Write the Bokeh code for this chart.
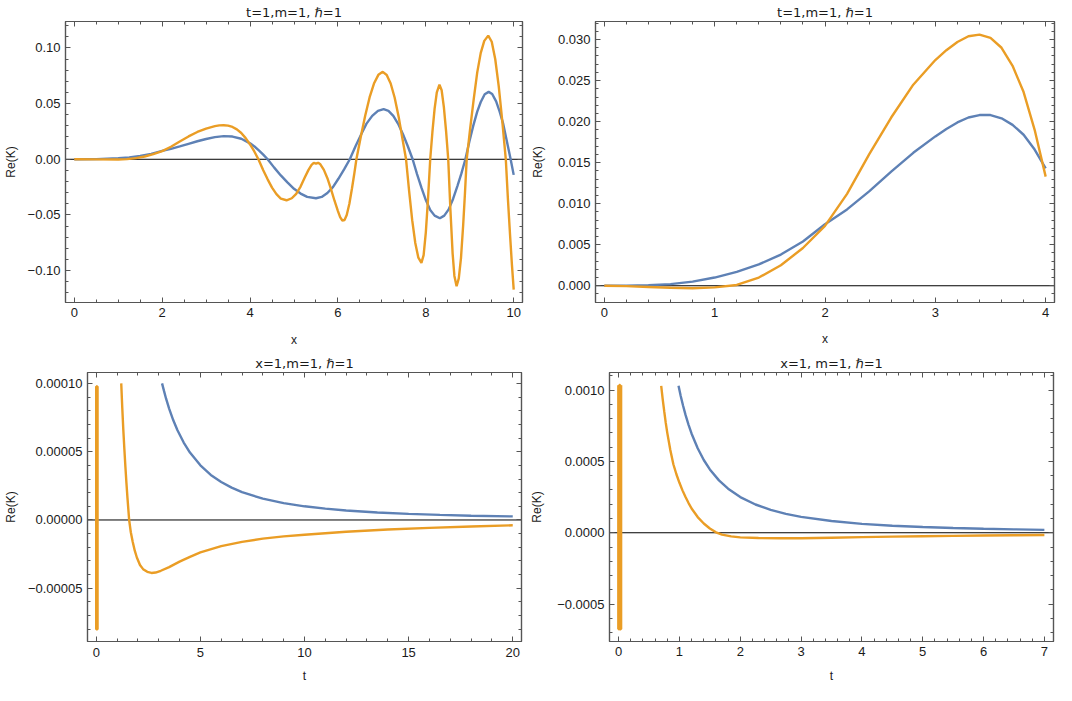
from bokeh.plotting import figure
from bokeh.layouts import row, column
from bokeh.models import Range1d, FixedTicker, LinearAxis, Span, CustomJSTickFormatter, CustomLabelingPolicy
from bokeh.embed import file_html
from bokeh.resources import INLINE

BLUE = "#5E81B5"
ORANGE = "#EA9D25"
FONT = "Liberation Sans"
TFONT = "DejaVu Sans"
FRAME = "#555555"
TXT = "#1a1a1a"
HBAR = "\u210f"
MINUS = "\u2212"

# ---------------- Panel A: t=1, x in [0,10] ----------------
a_blue_x = [0, 0.5, 1.0, 1.25, 1.5, 1.75, 2.0, 2.2, 2.4, 2.6, 2.8, 3.0, 3.2, 3.4, 3.6, 3.8, 4.0, 4.1, 4.2, 4.3,
            4.4, 4.55, 4.7, 4.85, 5.0, 5.15, 5.3, 5.5, 5.63, 5.76, 5.89, 6.01, 6.14, 6.27, 6.4, 6.53, 6.65, 6.78,
            6.91, 7.04, 7.15, 7.26, 7.37, 7.48, 7.59, 7.7, 7.8, 7.9, 8.0, 8.1, 8.2, 8.32, 8.42, 8.52, 8.62, 8.72,
            8.81, 8.9, 8.99, 9.08, 9.17, 9.25, 9.34, 9.43, 9.51, 9.6, 9.68, 9.76, 9.85, 9.93, 10.0]
a_blue_y = [0, 0.0001, 0.0009, 0.0017, 0.0030, 0.0049, 0.0075, 0.0093, 0.0115, 0.0139, 0.0162, 0.0182, 0.0199,
            0.0208, 0.0204, 0.0184, 0.0143, 0.0115, 0.0080, 0.0041, 0.0, -0.0075, -0.0145, -0.0208, -0.0265,
            -0.0308, -0.0338, -0.0350, -0.0338, -0.0303, -0.0248, -0.0175, -0.0091, 0.0, 0.0117, 0.0225, 0.0320,
            0.0390, 0.0434, 0.0450, 0.0435, 0.0390, 0.0318, 0.0225, 0.0117, 0.0, -0.0133, -0.0255, -0.0366, -0.0456,
            -0.0506, -0.0530, -0.0506, -0.0450, -0.0356, -0.0238, -0.0127, 0.0, 0.0157, 0.0302, 0.0428, 0.0514,
            0.0584, 0.0605, 0.0586, 0.0520, 0.0428, 0.0320, 0.0150, 0.0, -0.0140]
a_orange_x = [0, 0.5, 1.0, 1.2, 1.4, 1.6, 1.8, 2.0, 2.2, 2.4, 2.6, 2.8, 3.0, 3.1, 3.2, 3.3, 3.4, 3.5, 3.6, 3.7, 3.8,
              3.9, 4.0, 4.1, 4.19, 4.3, 4.4, 4.5, 4.6, 4.7, 4.83, 4.95, 5.05, 5.15, 5.25, 5.33, 5.4, 5.45, 5.5, 5.55,
              5.6, 5.68, 5.76, 5.84, 5.92, 6.0, 6.05, 6.1, 6.15, 6.2, 6.26, 6.32, 6.37, 6.42, 6.52, 6.62, 6.72, 6.82,
              6.92, 7.02, 7.11, 7.2, 7.29, 7.38, 7.47, 7.55, 7.62, 7.69, 7.76, 7.83, 7.9, 7.95, 8.0, 8.05, 8.1, 8.15,
              8.2, 8.25, 8.31, 8.36, 8.41, 8.46, 8.51, 8.56, 8.61, 8.65, 8.7, 8.75, 8.8, 8.85, 8.89, 8.93, 9.01, 9.09,
              9.17, 9.25, 9.33, 9.42, 9.5, 9.58, 9.66, 9.74, 9.82, 9.87, 9.92, 9.96, 10.0]
a_orange_y = [0, -0.0001, -0.0002, 0.0001, 0.0010, 0.0025, 0.0046, 0.0073, 0.0112, 0.0160, 0.0205, 0.0245, 0.0275,
              0.0287, 0.0297, 0.0304, 0.0306, 0.0302, 0.0290, 0.0268, 0.0236, 0.0190, 0.0133, 0.0068, 0.0, -0.0098,
              -0.0180, -0.0254, -0.0313, -0.0353, -0.0368, -0.0350, -0.0310, -0.0245, -0.0160, -0.0095, -0.0050,
              -0.0032, -0.0040, -0.0032, -0.0045, -0.0095, -0.0170, -0.0265, -0.0370, -0.0465, -0.0520, -0.0550,
              -0.0545, -0.0500, -0.0400, -0.0260, -0.0135, 0.0, 0.0203, 0.0390, 0.0555, 0.0680, 0.0758, 0.0785,
              0.0757, 0.0680, 0.0555, 0.0385, 0.0180, 0.0, -0.0287, -0.0547, -0.0752, -0.0884, -0.0930, -0.0860,
              -0.0657, -0.0356, 0.0, 0.0245, 0.0455, 0.0600, 0.0670, 0.0620, 0.0470, 0.0257, 0.0, -0.0458, -0.0847,
              -0.1047, -0.1140, -0.1070, -0.0887, -0.0590, -0.0310, 0.0, 0.0280, 0.0540, 0.0780, 0.0955, 0.1063,
              0.1110, 0.1055, 0.0898, 0.0653, 0.0343, 0.0, -0.0370, -0.0700, -0.0950, -0.1170]
a_xticks = [0, 2, 4, 6, 8, 10]
a_xlabels = ["0", "2", "4", "6", "8", "10"]
a_yticks = [-0.10, -0.05, 0.0, 0.05, 0.10]
a_ylabels = [MINUS + "0.10", MINUS + "0.05", "0.00", "0.05", "0.10"]

# ---------------- Panel B: t=1, x in [0,4] ----------------
b_x = [0, 0.2, 0.4, 0.6, 0.8, 1.0, 1.2, 1.4, 1.6, 1.8, 2.0, 2.2, 2.4, 2.6, 2.8, 3.0, 3.1, 3.2, 3.3, 3.4, 3.5, 3.6,
       3.7, 3.8, 3.9, 4.0]
b_blue_y = [0, 0.00001, 0.00006, 0.0002, 0.0005, 0.0010, 0.0017, 0.0026, 0.0038, 0.0054, 0.0075, 0.0093, 0.0115,
            0.0139, 0.0162, 0.0182, 0.0191, 0.0199, 0.0205, 0.0208, 0.0208, 0.0204, 0.0196, 0.0184, 0.0166, 0.0143]
b_orange_y = [0, -0.00005, -0.00015, -0.00025, -0.0003, -0.0002, 0.0001, 0.0010, 0.0025, 0.0046, 0.0073, 0.0112,
              0.0160, 0.0205, 0.0245, 0.0275, 0.0287, 0.0297, 0.0304, 0.0306, 0.0302, 0.0290, 0.0268, 0.0236,
              0.0190, 0.0133]
b_xticks = [0, 1, 2, 3, 4]
b_xlabels = ["0", "1", "2", "3", "4"]
b_yticks = [0.0, 0.005, 0.010, 0.015, 0.020, 0.025, 0.030]
b_ylabels = ["0.000", "0.005", "0.010", "0.015", "0.020", "0.025", "0.030"]

# ---------------- Panel C: x=1, t in [0,20] ----------------
c_blue_t = [3.16, 3.25, 3.35, 3.5, 3.7, 3.9, 4.2, 4.5, 5.0, 5.5, 6.0, 6.5, 7.0, 8.0, 9.0, 10.0, 11.0, 12.0, 13.5,
            15.0, 16.5, 18.0, 20.0]
c_blue_y = [1.0e-4, 9.47e-5, 8.9e-5, 8.16e-5, 7.3e-5, 6.57e-5, 5.67e-5, 4.94e-5, 4.0e-5, 3.3e-5, 2.78e-5, 2.37e-5,
            2.04e-5, 1.56e-5, 1.23e-5, 1.0e-5, 0.83e-5, 0.69e-5, 0.55e-5, 0.445e-5, 0.37e-5, 0.31e-5, 0.26e-5]
c_orange_t = [1.2, 1.25, 1.3, 1.35, 1.4, 1.45, 1.5, 1.58, 1.66, 1.75, 1.85, 1.95, 2.1, 2.25, 2.45, 2.65, 2.85, 3.1,
              3.5, 4.0, 4.5, 5.0, 6.0, 7.0, 8.0, 9.0, 10.0, 12.0, 14.0, 16.0, 18.0, 20.0]
c_orange_y = [1.0e-4, 8.2e-5, 6.6e-5, 5.2e-5, 3.9e-5, 2.7e-5, 1.6e-5, 0.0, -0.9e-5, -1.6e-5, -2.25e-5, -2.75e-5,
              -3.3e-5, -3.6e-5, -3.8e-5, -3.88e-5, -3.85e-5, -3.72e-5, -3.45e-5, -3.05e-5, -2.7e-5, -2.38e-5,
              -1.92e-5, -1.6e-5, -1.37e-5, -1.2e-5, -1.08e-5, -0.86e-5, -0.7e-5, -0.58e-5, -0.48e-5, -0.39e-5]
c_osc_t = [0.0, 0.0, 0.02, 0.02, 0.04, 0.04, 0.06, 0.06]
c_osc_y = [0.98e-4, -0.80e-4, -0.80e-4, 0.98e-4, 0.98e-4, -0.80e-4, -0.80e-4, 0.98e-4]
c_xticks = [0, 5, 10, 15, 20]
c_xlabels = ["0", "5", "10", "15", "20"]
c_yticks = [-0.00005, 0.0, 0.00005, 0.00010]
c_ylabels = [MINUS + "0.00005", "0.00000", "0.00005", "0.00010"]

# ---------------- Panel D: x=1, t in [0,7] ----------------
d_blue_t = [0.985, 1.02, 1.06, 1.1, 1.15, 1.2, 1.3, 1.4, 1.5, 1.65, 1.8, 2.0, 2.25, 2.5, 2.75, 3.0, 3.5, 4.0, 4.5,
            5.0, 5.5, 6.0, 6.5, 7.0]
d_blue_y = [1.03e-3, 0.96e-3, 0.89e-3, 0.826e-3, 0.756e-3, 0.694e-3, 0.592e-3, 0.51e-3, 0.444e-3, 0.367e-3,
            0.309e-3, 0.25e-3, 0.198e-3, 0.16e-3, 0.132e-3, 0.111e-3, 0.082e-3, 0.0625e-3, 0.049e-3, 0.04e-3,
            0.033e-3, 0.028e-3, 0.024e-3, 0.0205e-3]
d_orange_t = [0.70, 0.725, 0.75, 0.775, 0.80, 0.85, 0.90, 0.95, 1.0, 1.05, 1.1, 1.15, 1.2, 1.3, 1.4, 1.5, 1.6, 1.7,
              1.85, 2.0, 2.3, 2.65, 3.0, 3.5, 4.0, 4.5, 5.0, 5.5, 6.0, 6.5, 7.0]
d_orange_y = [1.03e-3, 0.935e-3, 0.85e-3, 0.77e-3, 0.70e-3, 0.58e-3, 0.48e-3, 0.41e-3, 0.35e-3, 0.297e-3, 0.25e-3,
              0.208e-3, 0.17e-3, 0.11e-3, 0.065e-3, 0.03e-3, 0.003e-3, -0.013e-3, -0.025e-3, -0.032e-3, -0.037e-3,
              -0.039e-3, -0.038e-3, -0.0345e-3, -0.0305e-3, -0.027e-3, -0.024e-3, -0.0215e-3, -0.0192e-3,
              -0.0175e-3, -0.016e-3]
d_osc_t = [0.0, 0.0, 0.012, 0.012, 0.024, 0.024, 0.036, 0.036]
d_osc_y = [1.034e-3, -0.675e-3, -0.675e-3, 1.034e-3, 1.034e-3, -0.675e-3, -0.675e-3, 1.034e-3]
d_xticks = [0, 1, 2, 3, 4, 5, 6, 7]
d_xlabels = ["0", "1", "2", "3", "4", "5", "6", "7"]
d_yticks = [-0.0005, 0.0, 0.0005, 0.0010]
d_ylabels = [MINUS + "0.0005", "0.0000", "0.0005", "0.0010"]


def minor(lo, hi, step):
    n = int(round((hi - lo) / step))
    return [float(round(lo + i * step, 12)) for i in range(n + 1)]


def fmt(ticks, labels):
    return CustomJSTickFormatter(args=dict(v=ticks, l=labels), code="""
        const tol = Math.abs(v[1] - v[0]) * 1e-6;
        for (let i = 0; i < v.length; i++) { if (Math.abs(v[i] - tick) < tol) return l[i]; }
        return "";
    """)


NO_LABELS = CustomLabelingPolicy(code="""
    for (const i of Array.from(indices)) { indices.unset(i) }
    return indices
""")


def style(ax, ticker, formatter=None, label=None, tick_standoff=5, label_standoff=8):
    ax.ticker = ticker
    ax.axis_line_color = FRAME
    ax.axis_line_width = 1.2
    ax.major_tick_line_color = FRAME
    ax.minor_tick_line_color = FRAME
    ax.major_tick_in = 5
    ax.major_tick_out = 0
    ax.minor_tick_in = 3
    ax.minor_tick_out = 0
    if formatter is not None:
        ax.formatter = formatter
        ax.major_label_text_font = FONT
        ax.major_label_text_font_size = "13px"
        ax.major_label_text_color = TXT
        ax.major_label_standoff = int(tick_standoff)
        ax.axis_label = label
        ax.axis_label_text_font = FONT
        ax.axis_label_text_font_size = "12px"
        ax.axis_label_text_font_style = "normal"
        ax.axis_label_text_color = TXT
        ax.axis_label_standoff = int(label_standoff)
    else:
        ax.major_label_policy = NO_LABELS
        ax.major_label_text_font_size = "0px"
        ax.major_label_standoff = 0
        ax.axis_label = None


def make(title, w, h, borders, xr, yr, xt, xl, xminor, yt, yl, yminor, xname, xstd, ystd, series, osc=None):
    p = figure(width=w, height=h, output_backend="svg", toolbar_location=None,
               x_range=Range1d(*xr), y_range=Range1d(*yr), min_border=0)
    p.min_border_left, p.min_border_right, p.min_border_top, p.min_border_bottom = borders
    p.grid.visible = False
    p.outline_line_color = FRAME
    p.outline_line_width = 1.2
    p.background_fill_color = "white"
    p.border_fill_color = "white"
    p.title.text = title
    p.title.text_font = TFONT
    p.title.text_font_size = "13px"
    p.title.text_font_style = "normal"
    p.title.text_color = TXT
    p.title.align = "center"
    p.title.standoff = 4

    xtick = FixedTicker(ticks=xt, minor_ticks=xminor)
    ytick = FixedTicker(ticks=yt, minor_ticks=yminor)
    style(p.xaxis[0], xtick, fmt(xt, xl), xname, xstd[0], xstd[1])
    style(p.yaxis[0], ytick, fmt(yt, yl), "Re(K)", ystd[0], ystd[1])
    top = LinearAxis()
    right = LinearAxis()
    style(top, xtick)
    style(right, ytick)
    p.add_layout(top, "above")
    p.add_layout(right, "right")

    p.add_layout(Span(location=0, dimension="width", line_color="black", line_width=1, level="underlay"))
    for (sx, sy, c) in series:
        p.line(sx, sy, line_color=c, line_width=2.4)
    if osc is not None:
        p.line(osc[0], osc[1], line_color=ORANGE, line_width=osc[2])
    return p


pa = make("t=1,m=1, " + HBAR + "=1", 527, 350, (59, 5, 18, 47), (-0.2, 10.2), (-0.1286, 0.1237),
          a_xticks, a_xlabels, minor(0, 10, 0.5), a_yticks, a_ylabels, minor(-0.12, 0.12, 0.01),
          "x", (5, 13), (5, 7),
          [(a_blue_x, a_blue_y, BLUE), (a_orange_x, a_orange_y, ORANGE)])

pb = make("t=1,m=1, " + HBAR + "=1", 529, 350, (64, 2, 17, 48), (-0.08, 4.08), (-0.00204, 0.0322),
          b_xticks, b_xlabels, minor(0, 4, 0.2), b_yticks, b_ylabels, minor(-0.002, 0.032, 0.001),
          "x", (5, 12), (5, 10),
          [(b_x, b_blue_y, BLUE), (b_x, b_orange_y, ORANGE)])

pc = make("x=1,m=1, " + HBAR + "=1", 527, 335, (81, 6, 22, 44), (-0.42, 20.42), (-0.89e-4, 1.08e-4),
          c_xticks, c_xlabels, minor(0, 20, 1), c_yticks, c_ylabels, minor(-0.00008, 0.0001, 0.00001),
          "t", (6, 9), (5, 7),
          [(c_blue_t, c_blue_y, BLUE), (c_orange_t, c_orange_y, ORANGE)],
          osc=(c_osc_t, c_osc_y, 2.5))

pd = make("x=1, m=1, " + HBAR + "=1", 529, 335, (80, 3, 18, 43), (-0.15, 7.15), (-0.000762, 0.001123),
          d_xticks, d_xlabels, minor(0, 7, 0.2), d_yticks, d_ylabels, minor(-0.0007, 0.0011, 0.0001),
          "t", (5, 10), (5, 10),
          [(d_blue_t, d_blue_y, BLUE), (d_orange_t, d_orange_y, ORANGE)],
          osc=(d_osc_t, d_osc_y, 3))

layout = column(row(pa, pb), row(pc, pd))

with open("out.html", "w") as f:
    f.write(file_html(layout, INLINE, "Re(K) plots"))
